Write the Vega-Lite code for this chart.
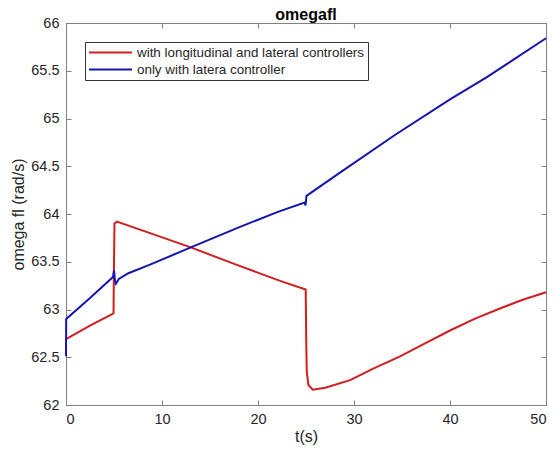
{
  "$schema": "https://vega.github.io/schema/vega-lite/v6.json",
  "width": 480,
  "height": 382,
  "autosize": {"type": "none"},
  "padding": {"left": 66, "top": 23, "right": 9, "bottom": 50},
  "background": "white",
  "config": {
    "font": "Liberation Sans",
    "view": {"stroke": "#808080", "strokeWidth": 1},
    "axis": {"grid": false, "domainColor": "#808080", "tickColor": "#808080", "labelColor": "#262626", "titleColor": "#262626", "labelFontSize": 14.5, "titleFontSize": 16, "titleFontWeight": "normal"}
  },
  "title": {"text": "omegafl", "fontSize": 16, "fontWeight": "bold", "offset": -8, "color": "black"},
  "data": {
    "values": [
      {"s": "with longitudinal and lateral controllers", "i": 1, "t": 0, "v": 62.69},
      {"s": "with longitudinal and lateral controllers", "i": 2, "t": 2.5, "v": 62.83},
      {"s": "with longitudinal and lateral controllers", "i": 3, "t": 4.95, "v": 62.96},
      {"s": "with longitudinal and lateral controllers", "i": 4, "t": 5.0, "v": 63.5},
      {"s": "with longitudinal and lateral controllers", "i": 5, "t": 5.05, "v": 63.9},
      {"s": "with longitudinal and lateral controllers", "i": 6, "t": 5.3, "v": 63.92},
      {"s": "with longitudinal and lateral controllers", "i": 7, "t": 8.75, "v": 63.8},
      {"s": "with longitudinal and lateral controllers", "i": 8, "t": 13, "v": 63.65},
      {"s": "with longitudinal and lateral controllers", "i": 9, "t": 18, "v": 63.46},
      {"s": "with longitudinal and lateral controllers", "i": 10, "t": 22.3, "v": 63.3},
      {"s": "with longitudinal and lateral controllers", "i": 11, "t": 24.97, "v": 63.21},
      {"s": "with longitudinal and lateral controllers", "i": 12, "t": 25.02, "v": 62.7},
      {"s": "with longitudinal and lateral controllers", "i": 13, "t": 25.08, "v": 62.35},
      {"s": "with longitudinal and lateral controllers", "i": 14, "t": 25.25, "v": 62.21},
      {"s": "with longitudinal and lateral controllers", "i": 15, "t": 25.7, "v": 62.16},
      {"s": "with longitudinal and lateral controllers", "i": 16, "t": 27, "v": 62.18},
      {"s": "with longitudinal and lateral controllers", "i": 17, "t": 29.6, "v": 62.26},
      {"s": "with longitudinal and lateral controllers", "i": 18, "t": 32, "v": 62.38},
      {"s": "with longitudinal and lateral controllers", "i": 19, "t": 34.8, "v": 62.51},
      {"s": "with longitudinal and lateral controllers", "i": 20, "t": 37.5, "v": 62.65},
      {"s": "with longitudinal and lateral controllers", "i": 21, "t": 40, "v": 62.78},
      {"s": "with longitudinal and lateral controllers", "i": 22, "t": 42.5, "v": 62.9},
      {"s": "with longitudinal and lateral controllers", "i": 23, "t": 45.2, "v": 63.01},
      {"s": "with longitudinal and lateral controllers", "i": 24, "t": 47.5, "v": 63.1},
      {"s": "with longitudinal and lateral controllers", "i": 25, "t": 50, "v": 63.18},
      {"s": "only with latera controller", "i": 1, "t": 0, "v": 62.51},
      {"s": "only with latera controller", "i": 2, "t": 0.02, "v": 62.9},
      {"s": "only with latera controller", "i": 3, "t": 2.5, "v": 63.12},
      {"s": "only with latera controller", "i": 4, "t": 4.9, "v": 63.34},
      {"s": "only with latera controller", "i": 5, "t": 5.0, "v": 63.41},
      {"s": "only with latera controller", "i": 6, "t": 5.1, "v": 63.3},
      {"s": "only with latera controller", "i": 7, "t": 5.2, "v": 63.27},
      {"s": "only with latera controller", "i": 8, "t": 5.5, "v": 63.32},
      {"s": "only with latera controller", "i": 9, "t": 6.5, "v": 63.38},
      {"s": "only with latera controller", "i": 10, "t": 8.75, "v": 63.47},
      {"s": "only with latera controller", "i": 11, "t": 13, "v": 63.65},
      {"s": "only with latera controller", "i": 12, "t": 18, "v": 63.86},
      {"s": "only with latera controller", "i": 13, "t": 22, "v": 64.02},
      {"s": "only with latera controller", "i": 14, "t": 24.85, "v": 64.12},
      {"s": "only with latera controller", "i": 15, "t": 24.95, "v": 64.09},
      {"s": "only with latera controller", "i": 16, "t": 25.05, "v": 64.19},
      {"s": "only with latera controller", "i": 17, "t": 28.5, "v": 64.43},
      {"s": "only with latera controller", "i": 18, "t": 34.3, "v": 64.83},
      {"s": "only with latera controller", "i": 19, "t": 40, "v": 65.2},
      {"s": "only with latera controller", "i": 20, "t": 43.8, "v": 65.43},
      {"s": "only with latera controller", "i": 21, "t": 50, "v": 65.84}
    ]
  },
  "layer": [
    {
      "mark": {"type": "line", "strokeWidth": 2},
      "encoding": {
        "x": {"field": "t", "type": "quantitative", "scale": {"domain": [0, 50], "nice": false},
              "axis": {"orient": "bottom", "title": "t(s)", "values": [0, 10, 20, 30, 40, 50], "tickSize": -5, "labelPadding": 12, "titlePadding": 3}},
        "y": {"field": "v", "type": "quantitative", "scale": {"domain": [62, 66], "nice": false, "zero": false},
              "axis": {"orient": "left", "title": "omega fl (rad/s)", "values": [62, 62.5, 63, 63.5, 64, 64.5, 65, 65.5, 66], "labelExpr": "'' + datum.value", "tickSize": -5, "labelPadding": 12, "titlePadding": 4}},
        "color": {"field": "s", "type": "nominal",
                  "scale": {"domain": ["with longitudinal and lateral controllers", "only with latera controller"], "range": ["#d21e1e", "#1414b0"]},
                  "legend": {"title": null, "orient": "none", "legendX": 19, "legendY": 19, "symbolType": "stroke", "symbolSize": 1849, "symbolStrokeWidth": 2, "clipHeight": 15, "rowPadding": 2, "padding": 3, "labelOffset": 4, "labelFontSize": 13.4, "labelLimit": 400, "labelColor": "#262626", "strokeColor": "#333333", "fillColor": "white"}},
        "order": {"field": "i", "type": "quantitative"}
      }
    },
    {
      "mark": {"type": "point", "opacity": 0},
      "encoding": {
        "x": {"field": "t", "type": "quantitative", "axis": {"orient": "top", "title": null, "labels": false, "values": [0, 10, 20, 30, 40, 50], "tickSize": -5}},
        "y": {"field": "v", "type": "quantitative", "axis": {"orient": "right", "title": null, "labels": false, "values": [62, 62.5, 63, 63.5, 64, 64.5, 65, 65.5, 66], "tickSize": -5}}
      }
    }
  ],
  "resolve": {"axis": {"x": "independent", "y": "independent"}}
}
